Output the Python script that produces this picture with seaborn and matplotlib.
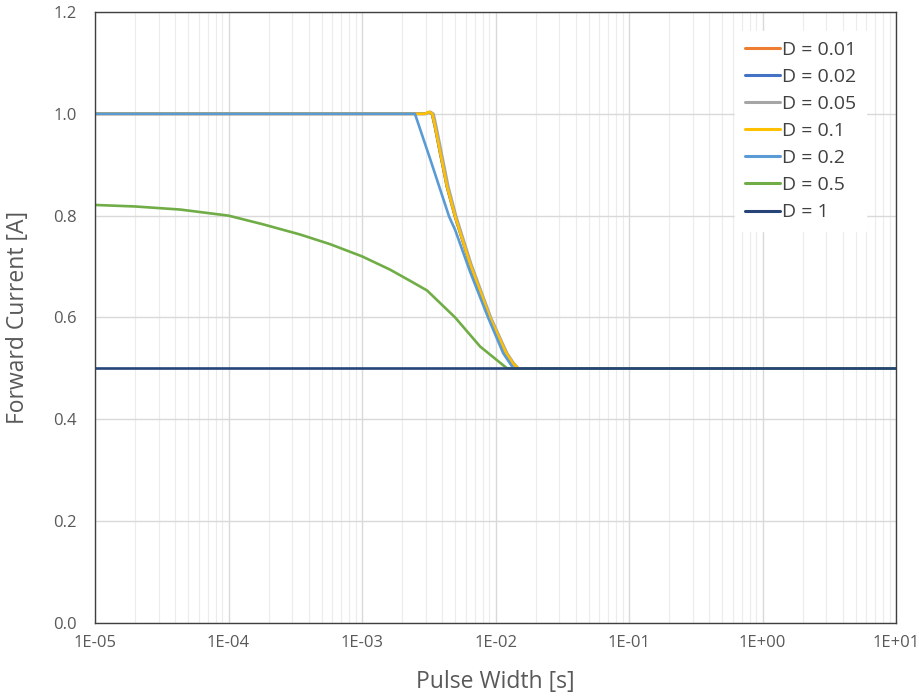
import matplotlib.pyplot as plt
import matplotlib.ticker as tik
import seaborn as sns
import numpy as np
import pandas as pd

#### data
series_names = ["D = 0.01", "D = 0.02", "D = 0.05", "D = 0.1", "D = 0.2", "D = 0.5", "D = 1"]
series_colors = ["#ED7D31", "#4472C4", "#A5A5A5", "#FFC000", "#5B9BD5", "#70AD47", "#264478"]
x_ticks = [1e-5, 1e-4, 1e-3, 1e-2, 1e-1, 1e0, 1e1]
x_ticklabels = ["1E-05", "1E-04", "1E-03", "1E-02", "1E-01", "1E+00", "1E+01"]

t_d001 = [1e-5, 2.95e-3, 3.17e-3, 3.34e-3, 3.51e-3, 3.83e-3, 4.32e-3, 4.97e-3, 6.43e-3, 9.08e-3, 1.2e-2, 1.35e-2, 1.47e-2, 10]
i_d001 = [1.0, 1.0, 1.003, 1.0, 0.975, 0.925, 0.857, 0.798, 0.705, 0.599, 0.53, 0.51, 0.5, 0.5]
t_d002 = [1e-5, 2.95e-3, 3.17e-3, 3.34e-3, 3.51e-3, 3.83e-3, 4.32e-3, 4.97e-3, 6.43e-3, 9.08e-3, 1.2e-2, 1.35e-2, 1.47e-2, 10]
i_d002 = [1.0, 1.0, 1.003, 1.0, 0.975, 0.925, 0.857, 0.798, 0.705, 0.599, 0.53, 0.51, 0.5, 0.5]
t_d005 = [1e-5, 3.02e-3, 3.25e-3, 3.43e-3, 3.6e-3, 3.93e-3, 4.43e-3, 5.08e-3, 6.57e-3, 9.26e-3, 1.22e-2, 1.37e-2, 1.48e-2, 10]
i_d005 = [1.0, 1.0, 1.004, 1.0, 0.975, 0.925, 0.857, 0.798, 0.705, 0.599, 0.53, 0.51, 0.5, 0.5]
t_d01 = [1e-5, 2.96e-3, 3.18e-3, 3.35e-3, 3.52e-3, 3.84e-3, 4.33e-3, 4.98e-3, 6.44e-3, 9.1e-3, 1.2e-2, 1.35e-2, 1.47e-2, 10]
i_d01 = [1.0, 1.0, 1.004, 1.0, 0.975, 0.925, 0.857, 0.798, 0.705, 0.599, 0.53, 0.51, 0.5, 0.5]
t_d02 = [1e-5, 2.49e-3, 3.23e-3, 4.49e-3, 4.98e-3, 6.44e-3, 8.79e-3, 1.14e-2, 1.36e-2, 10]
i_d02 = [1.0, 1.0, 0.912, 0.798, 0.772, 0.69, 0.6, 0.53, 0.5, 0.5]
t_d05 = [1e-5, 2.0e-5, 4.33e-5, 1e-4, 1.81e-4, 3.43e-4, 5.76e-4, 1e-3, 1.62e-3, 2.29e-3,
         3.07e-3, 4.98e-3, 7.66e-3, 1.22e-2, 10]
i_d05 = [0.821, 0.818, 0.812, 0.80, 0.783, 0.763, 0.744, 0.720, 0.694, 0.672,
         0.653, 0.60, 0.543, 0.5, 0.5]
t_d1 = [1e-5, 10]
i_d1 = [0.5, 0.5]

series_t = [t_d001, t_d002, t_d005, t_d01, t_d02, t_d05, t_d1]
series_i = [i_d001, i_d002, i_d005, i_d01, i_d02, i_d05, i_d1]

frames = []
for name, t, i in zip(series_names, series_t, series_i):
    frames.append(pd.DataFrame({"t": t, "I": i, "D": name}))
df = pd.concat(frames, ignore_index=True)

sns.set_theme(style="white")
plt.rcParams['font.family'] = ['Open Sans', 'DejaVu Sans']
plt.rcParams['axes.unicode_minus'] = False

fig = plt.figure(figsize=(9.2, 6.96), dpi=100)
ax = fig.add_axes([0.1033, 0.1049, 0.8707, 0.8779])

sns.lineplot(data=df, x="t", y="I", hue="D", hue_order=series_names,
             palette=dict(zip(series_names, series_colors)),
             estimator=None, sort=False, linewidth=1.9, ax=ax)
for ln in ax.get_lines():
    ln.set_solid_joinstyle("round")

ax.set_xscale("log")
ax.set_xlim(1e-5, 10)
ax.set_ylim(0, 1.2)
ax.yaxis.set_major_locator(tik.MultipleLocator(0.2))
ax.yaxis.set_major_formatter(tik.FormatStrFormatter("%.1f"))
ax.set_xticks(x_ticks)
ax.set_xticklabels(x_ticklabels)
ax.xaxis.set_minor_locator(tik.LogLocator(base=10, subs=np.arange(2, 10), numticks=100))
ax.xaxis.set_minor_formatter(tik.NullFormatter())

ax.grid(True, which="major", color="#d9d9d9", linewidth=1.0)
ax.grid(True, which="minor", axis="x", color="#ececec", linewidth=0.8)
ax.set_axisbelow(True)
for s in ax.spines.values():
    s.set_color("#404040")
    s.set_linewidth(1.0)

ax.tick_params(axis="both", which="both", length=0, labelsize=12,
               labelcolor="#595959")
ax.tick_params(axis="x", pad=9)
ax.tick_params(axis="y", pad=13)

ax.set_xlabel("Pulse Width [s]", fontsize=16.5, color="#595959", labelpad=13)
ax.set_ylabel("Forward Current [A]", fontsize=16.5, color="#595959", labelpad=17)

leg = ax.legend(loc="upper right", bbox_to_anchor=(0.974, 0.985), frameon=True,
                fontsize=14, handlelength=1.8, handletextpad=0.1,
                labelspacing=0.47, borderpad=0.5, fancybox=False)
leg.get_frame().set_facecolor("white")
leg.get_frame().set_edgecolor("white")
leg.get_frame().set_alpha(1.0)
for txt in leg.get_texts():
    txt.set_color("#404040")
for line in leg.get_lines():
    line.set_linewidth(2.2)

plt.savefig("out.png", dpi=100)
